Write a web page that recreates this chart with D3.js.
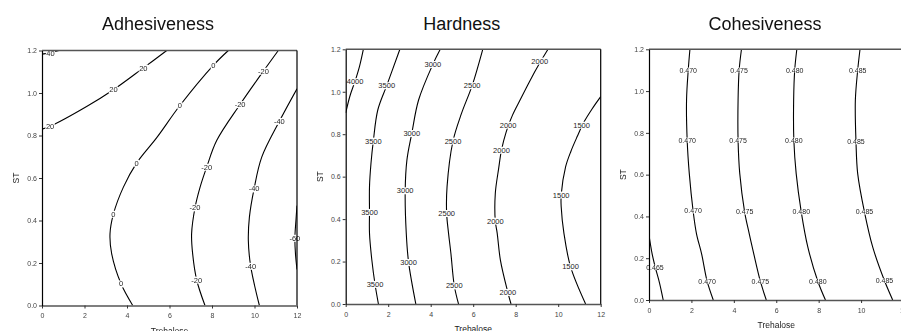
<!DOCTYPE html>
<html>
<head>
<meta charset="utf-8">
<script src="https://cdn.jsdelivr.net/npm/d3@7"></script>
<style>
  body { margin: 0; background: #fff; }
  svg { display: block; font-family: "Liberation Sans", Arial, sans-serif; }
  .lbl { opacity: 0.99; }
</style>
</head>
<body>
<svg id="chart" width="901" height="331"></svg>
<script>
// axis ticks shared by all three panels
const xTicks = [0, 2, 4, 6, 8, 10, 12];
const yTicks = [0, 0.2, 0.4, 0.6, 0.8, 1.0, 1.2];

// Adhesiveness contours, points as [Trehalose, ST]
const adh40 = [[0, 1.183], [0.4, 1.19], [0.8, 1.2]];
const adh20 = [[0, 0.83], [0.38, 0.843], [2.1, 0.936], [3.36, 1.015], [4.77, 1.118], [5.87, 1.2]];
const adh0 = [[4.27, 0], [3.72, 0.102], [3.28, 0.243], [3.2, 0.337], [3.36, 0.43], [3.83, 0.557],
  [4.45, 0.67], [5.4, 0.79], [6.49, 0.941], [8.06, 1.13], [8.77, 1.2]];
const adhM20 = [[7.67, 0], [7.28, 0.12], [7.09, 0.243], [7.04, 0.337], [7.2, 0.46], [7.44, 0.557],
  [7.75, 0.651], [8.22, 0.776], [9.32, 0.946], [10.42, 1.103], [11.12, 1.2]];
const adhM40 = [[10.23, 0], [9.82, 0.185], [9.71, 0.306], [9.76, 0.416], [9.98, 0.549],
  [10.34, 0.698], [11.17, 0.867], [12, 1.02]];
const adhM60 = [[12, 0.47], [11.95, 0.4], [11.9, 0.317], [11.93, 0.24], [12, 0.17]];
const adhLabels = [
  [0.4, 1.186, "40"], [0.38, 0.843, "20"], [3.36, 1.015, "20"], [4.77, 1.118, "20"],
  [3.72, 0.102, "0"], [3.36, 0.43, "0"], [4.45, 0.67, "0"], [6.49, 0.941, "0"], [8.06, 1.13, "0"],
  [7.28, 0.12, "-20"], [7.2, 0.46, "-20"], [7.75, 0.651, "-20"], [9.32, 0.946, "-20"], [10.42, 1.103, "-20"],
  [9.82, 0.185, "-40"], [9.98, 0.549, "-40"], [11.17, 0.867, "-40"],
  [11.9, 0.317, "-60"]
];

// Hardness contours
const hard4000 = [[0, 0.9], [0.2, 0.98], [0.44, 1.05], [0.65, 1.12], [0.83, 1.2]];
const hard3500 = [[1.54, 0], [1.38, 0.093], [1.23, 0.207], [1.12, 0.333], [1.12, 0.432], [1.12, 0.553],
  [1.19, 0.663], [1.3, 0.768], [1.51, 0.914], [1.93, 1.029], [2.55, 1.2]];
const hard3000 = [[3.3, 0], [2.96, 0.196], [2.85, 0.333], [2.8, 0.534], [2.88, 0.678], [3.11, 0.804],
  [3.43, 0.961], [4.1, 1.129], [4.45, 1.2]];
const hard2500 = [[5.31, 0], [5.11, 0.086], [4.95, 0.239], [4.84, 0.333], [4.75, 0.427], [4.77, 0.553],
  [5.05, 0.768], [5.45, 0.898], [5.95, 1.029], [6.45, 1.2]];
const hard2000 = [[7.78, 0], [7.63, 0.055], [7.28, 0.207], [7.13, 0.333], [7.04, 0.391], [7.04, 0.521],
  [7.2, 0.64], [7.33, 0.725], [7.55, 0.81], [7.85, 0.89], [8.2, 0.96], [8.66, 1.05], [9.13, 1.135], [9.52, 1.2]];
const hard1500 = [[11.29, 0], [10.58, 0.176], [10.27, 0.333], [10.14, 0.459], [10.14, 0.514],
  [10.35, 0.647], [10.6, 0.72], [10.9, 0.79], [11.2, 0.855], [11.6, 0.92], [12, 0.977]];
const hardLabels = [
  [0.44, 1.048, "4000"],
  [1.38, 0.093, "3500"], [1.12, 0.432, "3500"], [1.3, 0.768, "3500"], [1.93, 1.029, "3500"],
  [2.96, 0.196, "3000"], [2.8, 0.534, "3000"], [3.11, 0.804, "3000"], [4.1, 1.129, "3000"],
  [5.11, 0.086, "2500"], [4.75, 0.427, "2500"], [5.05, 0.768, "2500"], [5.95, 1.029, "2500"],
  [7.63, 0.055, "2000"], [7.04, 0.391, "2000"], [7.33, 0.725, "2000"], [7.64, 0.843, "2000"], [9.13, 1.145, "2000"],
  [10.58, 0.176, "1500"], [10.14, 0.514, "1500"], [11.1, 0.843, "1500"]
];

// Cohesiveness contours
const coh465 = [[0, 0.31], [0.15, 0.22], [0.3, 0.155], [0.5, 0.08], [0.67, 0]];
const coh470 = [[3.03, 0], [2.74, 0.09], [2.48, 0.221], [2.24, 0.317], [2.08, 0.426], [1.9, 0.605],
  [1.8, 0.765], [1.77, 0.957], [1.85, 1.1], [1.93, 1.2]];
const coh475 = [[5.53, 0], [5.25, 0.09], [4.94, 0.221], [4.72, 0.32], [4.51, 0.421], [4.28, 0.605],
  [4.2, 0.765], [4.2, 0.957], [4.25, 1.1], [4.36, 1.2]];
const coh480 = [[8.32, 0], [7.96, 0.09], [7.49, 0.253], [7.18, 0.421], [6.94, 0.605], [6.83, 0.765],
  [6.82, 0.957], [6.87, 1.1], [6.97, 1.2]];
const coh485 = [[11.49, 0], [11.1, 0.093], [10.55, 0.253], [10.16, 0.421], [9.84, 0.605], [9.76, 0.757],
  [9.73, 0.957], [9.84, 1.1], [9.95, 1.2]];
const cohLabels = [
  [0.28, 0.157, "0.465"],
  [2.74, 0.09, "0.470"], [2.08, 0.426, "0.470"], [1.8, 0.765, "0.470"], [1.85, 1.1, "0.470"],
  [5.25, 0.09, "0.475"], [4.51, 0.421, "0.475"], [4.2, 0.765, "0.475"], [4.25, 1.1, "0.475"],
  [7.96, 0.09, "0.480"], [7.18, 0.421, "0.480"], [6.83, 0.765, "0.480"], [6.87, 1.1, "0.480"],
  [11.1, 0.093, "0.485"], [10.16, 0.421, "0.485"], [9.76, 0.757, "0.485"], [9.84, 1.1, "0.485"]
];

const panels = [
  { title: "Adhesiveness", left: 42, top: 50.5, w: 255, h: 255,
    lines: [adh40, adh20, adh0, adhM20, adhM40, adhM60], labels: adhLabels, fs: 7.5 },
  { title: "Hardness", left: 345.7, top: 49.3, w: 255, h: 254.7,
    lines: [hard4000, hard3500, hard3000, hard2500, hard2000, hard1500], labels: hardLabels, fs: 7.5 },
  { title: "Cohesiveness", left: 649, top: 49.3, w: 254.5, h: 250.7,
    lines: [coh465, coh470, coh475, coh480, coh485], labels: cohLabels, fs: 7 }
];

const svg = d3.select("#chart");

panels.forEach((p, i) => {
  const g = svg.append("g").attr("transform", "translate(" + p.left + "," + p.top + ")");
  const x = d3.scaleLinear().domain([0, 12]).range([0, p.w]);
  const y = d3.scaleLinear().domain([0, 1.2]).range([p.h, 0]);

  g.append("clipPath").attr("id", "clip" + i)
    .append("rect").attr("width", p.w).attr("height", p.h);

  const line = d3.line()
    .x(d => x(d[0]))
    .y(d => y(d[1]))
    .curve(d3.curveCatmullRom.alpha(0.5));

  g.append("g").attr("clip-path", "url(#clip" + i + ")")
    .selectAll("path")
    .data(p.lines)
    .enter()
    .append("path")
    .attr("d", line)
    .attr("fill", "none")
    .attr("stroke", "#000")
    .attr("stroke-width", 1.1);

  // contour labels sit on a white box that breaks the line
  const lab = g.append("g").attr("class", "lbl").selectAll("g")
    .data(p.labels)
    .enter()
    .append("g")
    .attr("transform", d => "translate(" + x(d[0]) + "," + y(d[1]) + ")");
  lab.append("text")
    .attr("text-anchor", "middle")
    .attr("dy", "0.35em")
    .attr("font-size", p.fs)
    .attr("fill", "#222")
    .text(d => d[2]);
  lab.each(function() {
    const t = d3.select(this).select("text");
    const b = t.node().getBBox();
    d3.select(this).insert("rect", "text")
      .attr("x", b.x - 0.5).attr("y", b.y + 1)
      .attr("width", b.width + 1).attr("height", b.height - 2)
      .attr("fill", "#fff");
  });

  // frame
  g.append("line").attr("x1", 0).attr("x2", p.w).attr("y1", 0).attr("y2", 0)
    .attr("stroke", "#555").attr("stroke-width", 1.5);
  g.append("line").attr("x1", p.w).attr("x2", p.w).attr("y1", 0).attr("y2", p.h)
    .attr("stroke", "#000").attr("stroke-width", 1.2);

  const xAxis = g.append("g")
    .attr("transform", "translate(0," + p.h + ")")
    .call(d3.axisBottom(x).tickValues(xTicks).tickFormat(d3.format("d"))
      .tickSizeInner(3).tickSizeOuter(0).tickPadding(5));
  xAxis.select(".domain").attr("stroke", "#555").attr("stroke-width", 1.5);
  xAxis.selectAll(".tick line").attr("stroke", "#333");
  xAxis.selectAll("text").attr("font-size", 7).attr("fill", "#444")
    .attr("font-family", "Liberation Sans, Arial, sans-serif");

  const yAxis = g.append("g")
    .call(d3.axisLeft(y).tickValues(yTicks).tickFormat(d3.format(".1f"))
      .tickSizeInner(3).tickSizeOuter(0).tickPadding(2));
  yAxis.select(".domain").attr("stroke", "#000").attr("stroke-width", 1.2);
  yAxis.selectAll(".tick line").attr("stroke", "#333");
  yAxis.selectAll("text").attr("font-size", 7).attr("fill", "#444")
    .attr("font-family", "Liberation Sans, Arial, sans-serif");

  g.append("text")
    .attr("x", 116).attr("y", 30 - p.top)
    .attr("text-anchor", "middle")
    .attr("font-size", 18)
    .attr("fill", "#111")
    .text(p.title);

  g.append("text")
    .attr("x", p.w / 2).attr("y", p.h + 28)
    .attr("text-anchor", "middle")
    .attr("font-size", 8.5)
    .attr("fill", "#222")
    .text("Trehalose");

  g.append("text")
    .attr("transform", "translate(-26," + (p.h / 2) + ") rotate(-90)")
    .attr("text-anchor", "middle")
    .attr("dy", "0.35em")
    .attr("font-size", 8.5)
    .attr("fill", "#222")
    .text("ST");
});
</script>
</body>
</html>
